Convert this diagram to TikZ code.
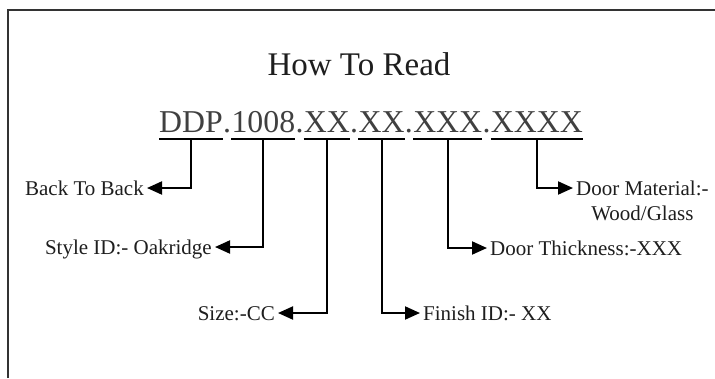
\documentclass[tikz,border=0pt]{standalone}
\usepackage{fontspec}
\setmainfont{Liberation Serif}
\usetikzlibrary{arrows.meta,calc}
\definecolor{ink}{HTML}{1E1E1E}
\definecolor{frameclr}{HTML}{333333}
\tikzset{
  titletext/.style={inner sep=0pt,text=ink,font=\fontsize{33}{38}\selectfont},
  codetext/.style={inner sep=0pt,anchor=base west,text=ink!85!white,font=\fontsize{31.8}{36}\selectfont},
  labeltext/.style={inner ysep=0pt,inner xsep=3pt,text height=14pt,text depth=0pt,text=ink,font=\fontsize{21}{25}\selectfont},
  uline/.style={line width=2pt,draw=black},
  conn/.style={line width=2pt,draw=black,-{Triangle[length=15pt,width=13pt]}},
  framestyle/.style={line width=2pt,draw=frameclr}
}
\begin{document}
\begin{tikzpicture}[x=1pt,y=-1pt]
\useasboundingbox (0,0) rectangle (715,378);
% frame
\draw[framestyle] (8,378) -- (8,9.5) -- (715,9.5);
% title
\node[titletext,anchor=base] (title) at (359,75) {How To Read};
% code
\node[codetext] (c1) at (159,132.5) {DDP};
\node[codetext] (d1) at (c1.base east) {.};
\node[codetext] (c2) at (d1.base east) {1008};
\node[codetext] (d2) at (c2.base east) {.};
\node[codetext] (c3) at (d2.base east) {XX};
\node[codetext] (d3) at (c3.base east) {.};
\node[codetext] (c4) at (d3.base east) {XX};
\node[codetext] (d4) at (c4.base east) {.};
\node[codetext] (c5) at (d4.base east) {XXX};
\node[codetext] (d5) at (c5.base east) {.};
\node[codetext] (c6) at (d5.base east) {XXXX};
% underlines and their midpoints
\foreach \i in {1,...,6}{
  \draw[uline] ($(c\i.base west)+(0,6.5)$) -- ($(c\i.base east)+(0,6.5)$);
  \coordinate (u\i) at ($(c\i.base west)!0.5!(c\i.base east)+(0,6.5)$);
}
% labels
\node[labeltext,anchor=east] (l1) at (147,188) {Back To Back};
\node[labeltext,anchor=east] (l2) at (215,247) {Style ID:- Oakridge};
\node[labeltext,anchor=east] (l3) at (278,313) {Size:-CC};
\node[labeltext,anchor=west] (l4) at (420,313) {Finish ID:- XX};
\node[labeltext,anchor=west] (l5) at (487,248) {Door Thickness:-XXX};
\node[labeltext,anchor=west] (l6) at (573,188) {Door Material:-};
\node[labeltext,anchor=north] (l6b) at ($(l6.south)+(0,11)$) {Wood/Glass};
% connectors
\draw[conn] (u1) |- (l1.east);
\draw[conn] (u2) |- (l2.east);
\draw[conn] (u3) |- (l3.east);
\draw[conn] (u4) |- (l4.west);
\draw[conn] (u5) |- (l5.west);
\draw[conn] (u6) |- (l6.west);
\end{tikzpicture}
\end{document}
